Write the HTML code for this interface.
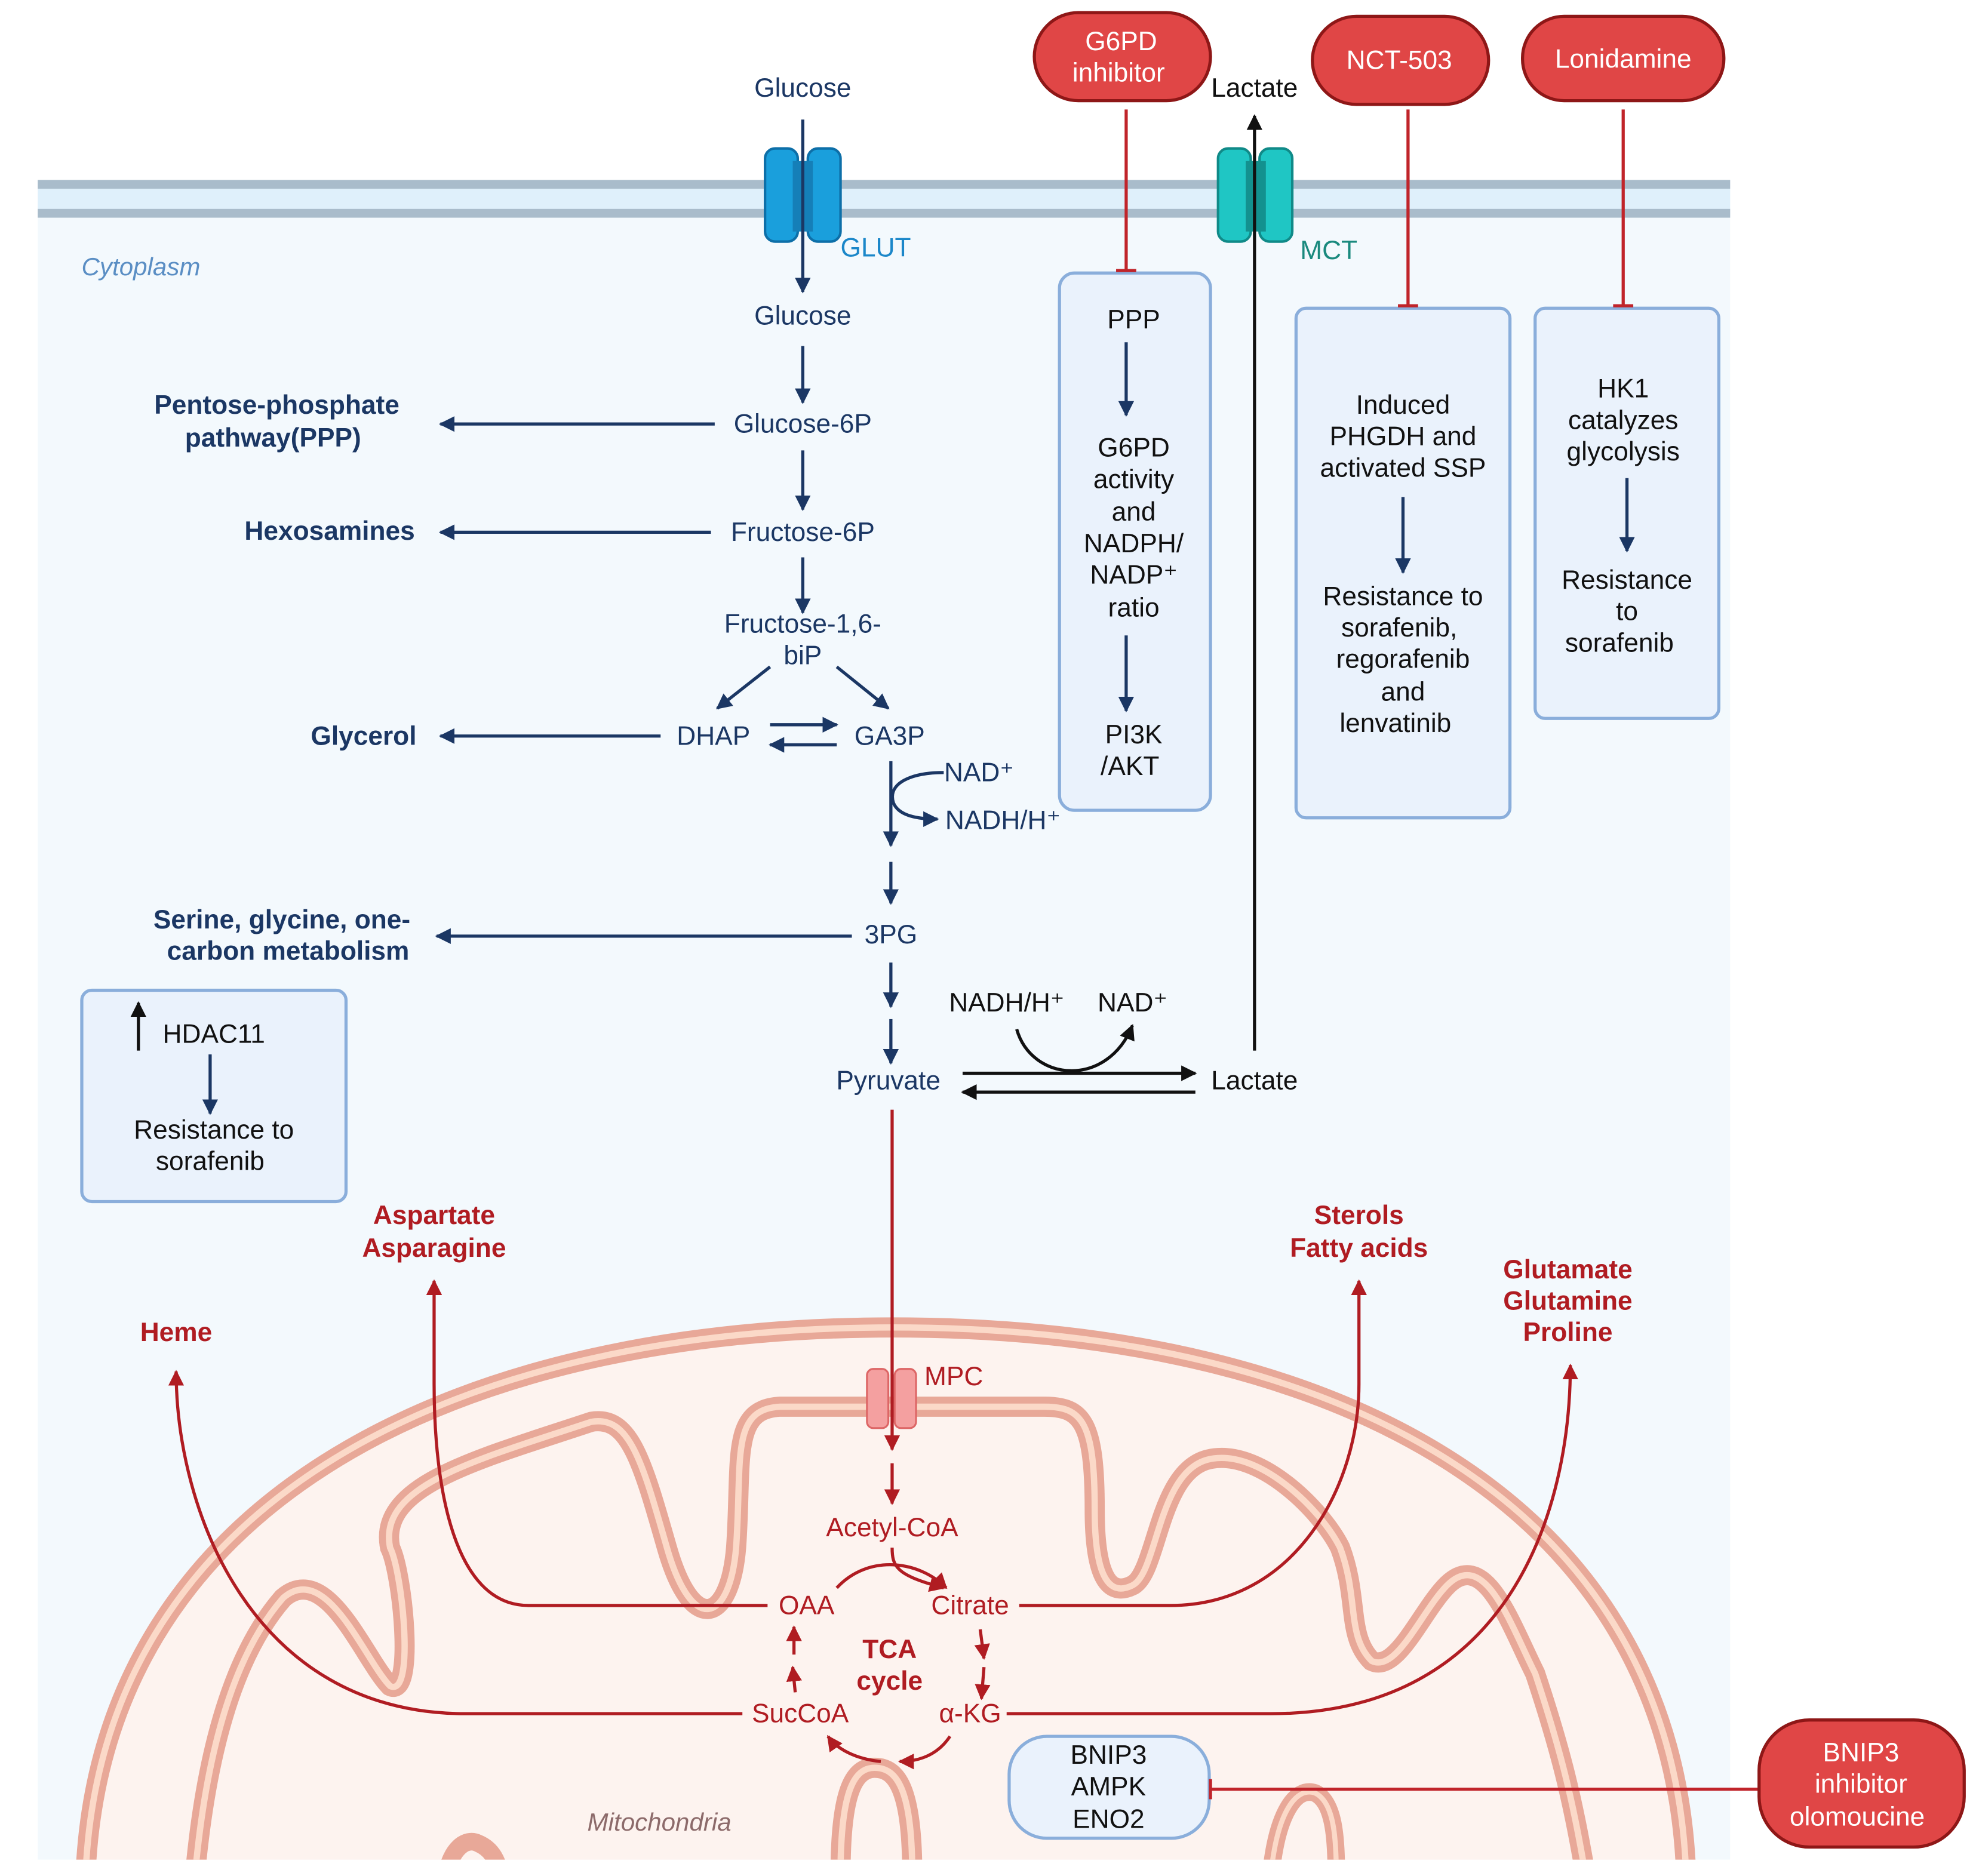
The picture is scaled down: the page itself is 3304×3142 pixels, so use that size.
<!DOCTYPE html>
<html><head><meta charset="utf-8"><style>
html,body{margin:0;padding:0;background:#fff;}
svg{display:block;}
text{font-family:"Liberation Sans",sans-serif;font-size:21px;dominant-baseline:central;text-anchor:middle;}
.n{fill:#1b3764;}
.b{font-weight:bold;}
.r{fill:#b01c22;}
.k{fill:#111;}
.w{fill:#fff;}
</style></head><body>
<svg width="3304" height="3142" viewBox="0 0 1568 1491" preserveAspectRatio="none" xmlns="http://www.w3.org/2000/svg">
<defs>
<marker id="an" viewBox="0 0 10 10" refX="9" refY="5" markerWidth="5" markerHeight="5" orient="auto"><path d="M0,0L10,5L0,10z" fill="#1b3764"/></marker>
<marker id="ak" viewBox="0 0 10 10" refX="9" refY="5" markerWidth="5" markerHeight="5" orient="auto"><path d="M0,0L10,5L0,10z" fill="#111"/></marker>
<marker id="ar" viewBox="0 0 10 10" refX="9" refY="5" markerWidth="5" markerHeight="5" orient="auto"><path d="M0,0L10,5L0,10z" fill="#b01c22"/></marker>
</defs>
<!-- cytoplasm -->
<rect x="30" y="160" width="1345" height="1318" fill="#f3f9fd"/>
<rect x="30" y="143" width="1345" height="30" fill="#dff0fb"/>
<rect x="30" y="143" width="1345" height="7" fill="#a9bccb"/>
<rect x="30" y="166" width="1345" height="7" fill="#a9bccb"/>
<text x="112" y="212" style="font-style:italic;fill:#5a8ec4;font-size:20px">Cytoplasm</text>
<!-- mitochondria -->
<clipPath id="cp"><rect x="30" y="1000" width="1345" height="478"/></clipPath>
<g clip-path="url(#cp)">
<path d="M68 1490 C80 1200,350 1055,710 1055 C1070 1055,1330 1200,1340 1490 Z" fill="#fdf3ef" stroke="#e8a898" stroke-width="16"/>
<path d="M68 1490 C80 1200,350 1055,710 1055 C1070 1055,1330 1200,1340 1490" fill="none" stroke="#fbd9c8" stroke-width="5"/>
<g fill="none">
<path d="M155 1490 C165 1380,190 1310,225 1270 C260 1240,290 1320,310 1340 C330 1350,320 1250,310 1230 C300 1180,380 1160,470 1130 C500 1125,510 1160,530 1230 C550 1300,580 1290,585 1230 C590 1160,580 1120,620 1118 L830 1118 C860 1118,870 1130,870 1200 C870 1250,880 1270,900 1260 C920 1250,920 1170,960 1160 C1000 1150,1050 1200,1065 1230 C1080 1270,1070 1300,1090 1320 C1110 1330,1130 1280,1150 1260 C1180 1230,1200 1290,1220 1330 C1240 1390,1250 1430,1260 1490" stroke="#e8a898" stroke-width="16"/>
<path d="M155 1490 C165 1380,190 1310,225 1270 C260 1240,290 1320,310 1340 C330 1350,320 1250,310 1230 C300 1180,380 1160,470 1130 C500 1125,510 1160,530 1230 C550 1300,580 1290,585 1230 C590 1160,580 1120,620 1118 L830 1118 C860 1118,870 1130,870 1200 C870 1250,880 1270,900 1260 C920 1250,920 1170,960 1160 C1000 1150,1050 1200,1065 1230 C1080 1270,1070 1300,1090 1320 C1110 1330,1130 1280,1150 1260 C1180 1230,1200 1290,1220 1330 C1240 1390,1250 1430,1260 1490" stroke="#fbd9c8" stroke-width="5"/>
<path d="M668 1490 C668 1420,680 1405,695 1405 C712 1405,725 1420,725 1490" stroke="#e8a898" stroke-width="16"/>
<path d="M668 1490 C668 1420,680 1405,695 1405 C712 1405,725 1420,725 1490" stroke="#fbd9c8" stroke-width="5"/>
<path d="M355 1490 C358 1470,370 1460,380 1465 C392 1470,395 1480,398 1490" stroke="#e8a898" stroke-width="14"/>
<path d="M1010 1490 C1015 1440,1030 1420,1045 1425 C1060 1432,1062 1460,1062 1490" stroke="#e8a898" stroke-width="14"/>
<path d="M1010 1490 C1015 1440,1030 1420,1045 1425 C1060 1432,1062 1460,1062 1490" stroke="#fbd9c8" stroke-width="4"/>
</g>
</g>
<text x="524" y="1448" style="font-style:italic;fill:#8c6a6a;font-size:20px">Mitochondria</text>

<!-- transporters -->
<rect x="608" y="118" width="26" height="74" rx="8" fill="#1a9fdc" stroke="#0d6fa8" stroke-width="2"/>
<rect x="642" y="118" width="26" height="74" rx="8" fill="#1a9fdc" stroke="#0d6fa8" stroke-width="2"/>
<rect x="630" y="128" width="16" height="56" fill="#157fb8"/>
<text x="696" y="197" style="fill:#1b87c9">GLUT</text>
<rect x="968" y="118" width="26" height="74" rx="8" fill="#1fc6c4" stroke="#108a88" stroke-width="2"/>
<rect x="1001" y="118" width="26" height="74" rx="8" fill="#1fc6c4" stroke="#108a88" stroke-width="2"/>
<rect x="990" y="128" width="16" height="56" fill="#13918f"/>
<text x="1056" y="199" style="fill:#1a8a7e">MCT</text>

<!-- boxes -->
<g fill="#eaf2fc" stroke="#8aaedb" stroke-width="2.5">
<rect x="65" y="787" width="210" height="168" rx="8"/>
<rect x="842" y="217" width="120" height="427" rx="12"/>
<rect x="1030" y="245" width="170" height="405" rx="8"/>
<rect x="1220" y="245" width="146" height="326" rx="8"/>
<rect x="802" y="1380" width="159" height="81" rx="30"/>
</g>

<!-- glycolysis -->
<g stroke="#1b3764" stroke-width="2.5" fill="none" marker-end="url(#an)">
<line x1="638" y1="95" x2="638" y2="232"/>
<line x1="638" y1="275" x2="638" y2="320"/>
<line x1="638" y1="358" x2="638" y2="405"/>
<line x1="638" y1="443" x2="638" y2="487"/>
<line x1="612" y1="530" x2="570" y2="563"/>
<line x1="665" y1="530" x2="706" y2="563"/>
<line x1="612" y1="576" x2="665" y2="576"/>
<line x1="665" y1="592" x2="612" y2="592"/>
<line x1="568" y1="337" x2="350" y2="337"/>
<line x1="565" y1="423" x2="350" y2="423"/>
<line x1="525" y1="585" x2="350" y2="585"/>
<line x1="677" y1="744" x2="347" y2="744"/>
<line x1="708" y1="605" x2="708" y2="672"/>
<path d="M750 614 C725 614,705 622,710 638 C714 648,728 651,745 651"/>
<line x1="708" y1="685" x2="708" y2="718"/>
<line x1="708" y1="765" x2="708" y2="800"/>
<line x1="708" y1="810" x2="708" y2="845"/>
<line x1="167" y1="838" x2="167" y2="885"/>
<line x1="895" y1="272" x2="895" y2="330"/>
<line x1="895" y1="505" x2="895" y2="565"/>
<line x1="1115" y1="395" x2="1115" y2="455"/>
<line x1="1293" y1="380" x2="1293" y2="438"/>
</g>
<text class="n" x="638" y="70">Glucose</text>
<text class="n" x="638" y="251">Glucose</text>
<text class="n" x="638" y="337">Glucose-6P</text>
<text class="n" x="638" y="423">Fructose-6P</text>
<text class="n" x="638" y="496">Fructose-1,6-</text>
<text class="n" x="638" y="521">biP</text>
<text class="n" x="567" y="585">DHAP</text>
<text class="n" x="707" y="585">GA3P</text>
<text class="n" x="778" y="614">NAD⁺</text>
<text class="n" x="797" y="652">NADH/H⁺</text>
<text class="n" x="708" y="743">3PG</text>
<text class="n" x="706" y="859">Pyruvate</text>
<text class="n b" x="220" y="322">Pentose-phosphate</text>
<text class="n b" x="217" y="348">pathway(PPP)</text>
<text class="n b" x="262" y="422">Hexosamines</text>
<text class="n b" x="289" y="585">Glycerol</text>
<text class="n b" x="224" y="731">Serine, glycine, one-</text>
<text class="n b" x="229" y="756">carbon metabolism</text>

<!-- lactate -->
<g stroke="#111" stroke-width="2.5" fill="none" marker-end="url(#ak)">
<line x1="765" y1="853" x2="950" y2="853"/>
<line x1="950" y1="868" x2="765" y2="868"/>
<path d="M808 818 C820 860,880 865,900 815"/>
<line x1="997" y1="835" x2="997" y2="92"/>
<line x1="110" y1="835" x2="110" y2="797"/>
</g>
<text class="k" x="800" y="797">NADH/H⁺</text>
<text class="k" x="900" y="797">NAD⁺</text>
<text class="k" x="997" y="859">Lactate</text>
<text class="k" x="997" y="70">Lactate</text>

<text class="k" x="170" y="822">HDAC11</text>
<text class="k" x="170" y="898">Resistance to</text>
<text class="k" x="167" y="923">sorafenib</text>
<text class="k" x="901" y="254">PPP</text>
<text class="k" x="901" y="356">G6PD</text>
<text class="k" x="901" y="381">activity</text>
<text class="k" x="901" y="407">and</text>
<text class="k" x="901" y="432">NADPH/</text>
<text class="k" x="901" y="457">NADP⁺</text>
<text class="k" x="901" y="483">ratio</text>
<text class="k" x="901" y="584">PI3K</text>
<text class="k" x="898" y="609">/AKT</text>
<text class="k" x="1115" y="322">Induced</text>
<text class="k" x="1115" y="347">PHGDH and</text>
<text class="k" x="1115" y="372">activated SSP</text>
<text class="k" x="1115" y="474">Resistance to</text>
<text class="k" x="1112" y="499">sorafenib,</text>
<text class="k" x="1115" y="524">regorafenib</text>
<text class="k" x="1115" y="550">and</text>
<text class="k" x="1109" y="575">lenvatinib</text>
<text class="k" x="1290" y="309">HK1</text>
<text class="k" x="1290" y="334">catalyzes</text>
<text class="k" x="1290" y="359">glycolysis</text>
<text class="k" x="1293" y="461">Resistance</text>
<text class="k" x="1293" y="486">to</text>
<text class="k" x="1287" y="511">sorafenib</text>
<text class="k" x="881" y="1395">BNIP3</text>
<text class="k" x="881" y="1420">AMPK</text>
<text class="k" x="881" y="1446">ENO2</text>

<!-- inhibitors -->
<g stroke="#c0242a" stroke-width="2.5">
<line x1="895" y1="87" x2="895" y2="215"/><line x1="887" y1="215" x2="903" y2="215"/>
<line x1="1119" y1="87" x2="1119" y2="243"/><line x1="1111" y1="243" x2="1127" y2="243"/>
<line x1="1290" y1="87" x2="1290" y2="243"/><line x1="1282" y1="243" x2="1298" y2="243"/>
<line x1="1397" y1="1422" x2="962" y2="1422"/><line x1="962" y1="1414" x2="962" y2="1430"/>
</g>
<g fill="#e04646" stroke="#8e1717" stroke-width="2.5">
<rect x="822" y="10" width="140" height="70" rx="35"/>
<rect x="1043" y="13" width="140" height="70" rx="35"/>
<rect x="1210" y="13" width="160" height="67" rx="33"/>
<rect x="1398" y="1367" width="163" height="101" rx="40"/>
</g>
<text class="w" x="891" y="33">G6PD</text>
<text class="w" x="889" y="58">inhibitor</text>
<text class="w" x="1112" y="48">NCT-503</text>
<text class="w" x="1290" y="47">Lonidamine</text>
<text class="w" x="1479" y="1393">BNIP3</text>
<text class="w" x="1479" y="1418">inhibitor</text>
<text class="w" x="1476" y="1444">olomoucine</text>

<!-- MPC -->
<rect x="689" y="1088" width="17" height="47" rx="5" fill="#f4a0a0" stroke="#d66" stroke-width="1.5"/>
<rect x="711" y="1088" width="17" height="47" rx="5" fill="#f4a0a0" stroke="#d66" stroke-width="1.5"/>
<text class="r" x="758" y="1094">MPC</text>

<!-- TCA -->
<g stroke="#b01c22" stroke-width="2.5" fill="none" marker-end="url(#ar)">
<line x1="709" y1="882" x2="709" y2="1152"/>
<line x1="709" y1="1163" x2="709" y2="1195"/>
<path d="M709 1230 C709 1245,712 1252,750 1262"/>
<path d="M665 1262 C690 1235,730 1240,752 1262"/>
<line x1="779" y1="1295" x2="782" y2="1318"/>
<line x1="782" y1="1325" x2="780" y2="1350"/>
<line x1="632" y1="1345" x2="630" y2="1325"/>
<line x1="631" y1="1315" x2="631" y2="1293"/>
<path d="M755 1380 C745 1395,730 1400,715 1400"/>
<path d="M700 1400 C680 1398,665 1390,658 1380"/>
<path d="M610 1276 H420 C360 1276,345 1180,345 1100 V1018"/>
<path d="M810 1276 H930 C1030 1276,1080 1180,1080 1100 V1018"/>
<path d="M590 1362 H370 C200 1362,140 1200,140 1090"/>
<path d="M800 1362 H1010 C1200 1362,1248 1200,1248 1085"/>
</g>
<text class="r" x="709" y="1214">Acetyl-CoA</text>
<text class="r" x="641" y="1276">OAA</text>
<text class="r" x="771" y="1276">Citrate</text>
<text class="r b" x="707" y="1311">TCA</text>
<text class="r b" x="707" y="1336">cycle</text>
<text class="r" x="636" y="1362">SucCoA</text>
<text class="r" x="771" y="1362">α-KG</text>
<text class="r b" x="345" y="966">Aspartate</text>
<text class="r b" x="345" y="992">Asparagine</text>
<text class="r b" x="1080" y="966">Sterols</text>
<text class="r b" x="1080" y="992">Fatty acids</text>
<text class="r b" x="140" y="1059">Heme</text>
<text class="r b" x="1246" y="1009">Glutamate</text>
<text class="r b" x="1246" y="1034">Glutamine</text>
<text class="r b" x="1246" y="1059">Proline</text>
</svg>
</body></html>
